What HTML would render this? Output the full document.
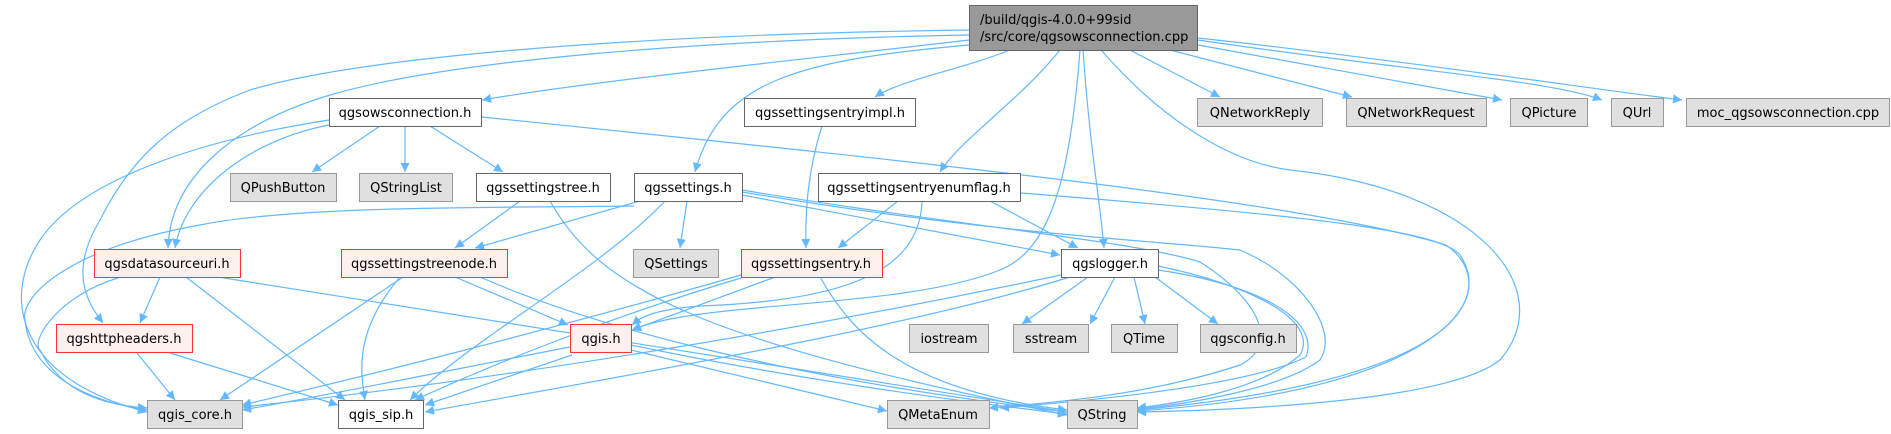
<!DOCTYPE html>
<html><head><meta charset="utf-8"><style>
html,body{margin:0;padding:0;background:#fff;width:1891px;height:434px;overflow:hidden}
svg text{font-family:"DejaVu Sans","Liberation Sans",sans-serif;font-size:13px;fill:#000}
.e{fill:none;stroke:#63b8ff;stroke-width:1.2}
</style></head><body>
<svg width="1891" height="434" viewBox="0 0 1891 434" xmlns="http://www.w3.org/2000/svg">
<defs><marker id="a" viewBox="0 0 10 10" refX="10" refY="5" markerWidth="10" markerHeight="9" markerUnits="userSpaceOnUse" orient="auto"><path d="M0,0L10,5L0,10z" fill="#63b8ff"/></marker></defs>
<g marker-end="url(#a)">
<path class="e" d="M969,40 C800,60 600,80 482,100"/>
<path class="e" d="M1010,50 C960,70 900,80 875,97"/>
<path class="e" d="M969,45 C800,60 720,80 695,172"/>
<path class="e" d="M1060,50 C1020,100 960,140 940,172"/>
<path class="e" d="M1083,50 C1090,150 1100,200 1104,248"/>
<path class="e" d="M1130,50 L1220,97"/>
<path class="e" d="M1170,50 L1352,97"/>
<path class="e" d="M1198,45 L1502,100"/>
<path class="e" d="M1198,40 C1400,70 1550,80 1602,100"/>
<path class="e" d="M1198,38 C1400,60 1600,90 1682,100"/>
<path class="e" d="M1101,50 C1180,140 1250,165 1290,170 C1480,190 1560,290 1500,360 C1450,400 1250,410 1137,412"/>
<path class="e" d="M969,35 C700,40 450,60 330,95 C230,125 170,180 168,248"/>
<path class="e" d="M969,30 C600,35 350,60 250,90 C170,120 130,160 100,220 C70,270 85,300 103,323"/>
<path class="e" d="M1080,50 C1070,180 1050,250 1000,270 C900,310 700,300 632,330"/>
<path class="e" d="M380,126 L312,172"/>
<path class="e" d="M405,126 L405,172"/>
<path class="e" d="M430,126 L503,172"/>
<path class="e" d="M329,125 C250,140 185,190 175,248"/>
<path class="e" d="M329,120 C200,140 80,180 40,240 C0,300 20,380 147,412"/>
<path class="e" d="M482,117 C900,160 1300,200 1446,245 C1510,290 1450,390 1137,411"/>
<path class="e" d="M520,201 L455,248"/>
<path class="e" d="M550,201 C600,290 700,340 1067,415"/>
<path class="e" d="M634,206 C500,208 300,205 200,225 C60,250 20,300 25,320 C30,370 80,400 147,410"/>
<path class="e" d="M640,201 L475,248"/>
<path class="e" d="M687,201 L680,248"/>
<path class="e" d="M665,201 C600,270 470,340 410,400"/>
<path class="e" d="M742,195 L1060,255"/>
<path class="e" d="M742,192 C1000,235 1150,240 1240,250 C1300,275 1340,330 1320,360 C1280,390 1180,405 1137,409"/>
<path class="e" d="M742,190 C950,225 1130,240 1200,262 C1260,300 1280,345 1240,365 C1150,395 1050,403 989,408"/>
<path class="e" d="M822,126 C808,170 805,210 806,248"/>
<path class="e" d="M898,201 L838,248"/>
<path class="e" d="M990,201 L1078,248"/>
<path class="e" d="M1021,193 C1300,215 1440,230 1460,255 C1490,300 1460,380 1137,410"/>
<path class="e" d="M922,201 C920,260 870,300 700,306 C650,310 640,318 632,325"/>
<path class="e" d="M160,277 L140,323"/>
<path class="e" d="M118,278 C60,295 30,340 40,350 C60,390 100,405 147,408"/>
<path class="e" d="M186,277 L345,400"/>
<path class="e" d="M218,277 L1067,412"/>
<path class="e" d="M403,277 L220,400"/>
<path class="e" d="M400,277 C355,330 360,370 365,400"/>
<path class="e" d="M455,277 L568,325"/>
<path class="e" d="M480,277 C600,330 800,380 1067,412"/>
<path class="e" d="M741,275 C550,330 350,380 242,405"/>
<path class="e" d="M741,278 C600,320 480,370 415,400"/>
<path class="e" d="M775,277 L632,330"/>
<path class="e" d="M820,277 C850,330 900,390 1067,410"/>
<path class="e" d="M137,353 L175,400"/>
<path class="e" d="M170,353 L338,405"/>
<path class="e" d="M570,347 C450,370 330,395 242,410"/>
<path class="e" d="M572,355 L425,405"/>
<path class="e" d="M631,350 L887,411"/>
<path class="e" d="M631,345 C800,380 950,400 1067,414"/>
<path class="e" d="M1061,275 C800,330 500,380 242,407"/>
<path class="e" d="M1070,277 C900,330 600,380 425,412"/>
<path class="e" d="M1088,277 L1022,324"/>
<path class="e" d="M1115,277 L1090,324"/>
<path class="e" d="M1134,277 L1145,324"/>
<path class="e" d="M1155,277 L1218,324"/>
<path class="e" d="M1158,270 C1260,285 1320,320 1306,357 C1250,385 1100,400 1000,408"/>
<path class="e" d="M1158,266 C1250,285 1320,320 1300,355 C1260,390 1180,403 1137,408"/>
</g>
<g stroke-width="1">
<rect x="969.5" y="5.5" width="228" height="45" fill="#999" stroke="#666"/>
<text x="980" y="24">/build/qgis-4.0.0+99sid</text>
<text x="980" y="41">/src/core/qgsowsconnection.cpp</text>
<g fill="#fff" stroke="#666">
<rect x="329.5" y="98.5" width="152" height="28"/>
<rect x="744.5" y="98.5" width="171" height="28"/>
<rect x="476.5" y="173.5" width="134" height="28"/>
<rect x="634.5" y="173.5" width="108" height="28"/>
<rect x="818.5" y="173.5" width="202" height="28"/>
<rect x="1061.5" y="249.5" width="97" height="28"/>
<rect x="338.5" y="400.5" width="85" height="28"/>
</g>
<g fill="#fff0f0" stroke="#ff3333">
<rect x="94.5" y="249.5" width="146" height="28"/>
<rect x="341.5" y="249.5" width="166" height="28"/>
<rect x="741.5" y="249.5" width="141" height="28"/>
<rect x="56.5" y="324.5" width="136" height="28"/>
<rect x="570.5" y="324.5" width="61" height="28"/>
</g>
<g fill="#e0e0e0" stroke="#999">
<rect x="1197.5" y="98.5" width="125" height="28"/>
<rect x="1346.5" y="98.5" width="140" height="28"/>
<rect x="1510.5" y="98.5" width="77" height="28"/>
<rect x="1611.5" y="98.5" width="52" height="28"/>
<rect x="1686.5" y="98.5" width="203" height="28"/>
<rect x="230.5" y="173.5" width="106" height="28"/>
<rect x="359.5" y="173.5" width="93" height="28"/>
<rect x="633.5" y="249.5" width="85" height="28"/>
<rect x="909.5" y="324.5" width="79" height="28"/>
<rect x="1013.5" y="324.5" width="75" height="28"/>
<rect x="1111.5" y="324.5" width="66" height="28"/>
<rect x="1200.5" y="324.5" width="96" height="28"/>
<rect x="147.5" y="400.5" width="95" height="28"/>
<rect x="887.5" y="400.5" width="102" height="28"/>
<rect x="1067.5" y="400.5" width="70" height="28"/>
</g>
</g>
<g text-anchor="middle">
<text x="405" y="117">qgsowsconnection.h</text>
<text x="830" y="117">qgssettingsentryimpl.h</text>
<text x="1260" y="117">QNetworkReply</text>
<text x="1416" y="117">QNetworkRequest</text>
<text x="1549" y="117">QPicture</text>
<text x="1637" y="117">QUrl</text>
<text x="1788" y="117">moc_qgsowsconnection.cpp</text>
<text x="283" y="192">QPushButton</text>
<text x="406" y="192">QStringList</text>
<text x="543" y="192">qgssettingstree.h</text>
<text x="688" y="192">qgssettings.h</text>
<text x="919" y="192">qgssettingsentryenumflag.h</text>
<text x="167" y="268">qgsdatasourceuri.h</text>
<text x="424" y="268">qgssettingstreenode.h</text>
<text x="676" y="268">QSettings</text>
<text x="811" y="268">qgssettingsentry.h</text>
<text x="1110" y="268">qgslogger.h</text>
<text x="124" y="343">qgshttpheaders.h</text>
<text x="601" y="343">qgis.h</text>
<text x="949" y="343">iostream</text>
<text x="1051" y="343">sstream</text>
<text x="1144" y="343">QTime</text>
<text x="1248" y="343">qgsconfig.h</text>
<text x="195" y="419">qgis_core.h</text>
<text x="381" y="419">qgis_sip.h</text>
<text x="938" y="419">QMetaEnum</text>
<text x="1102" y="419">QString</text>
</g>
</svg>
</body></html>
